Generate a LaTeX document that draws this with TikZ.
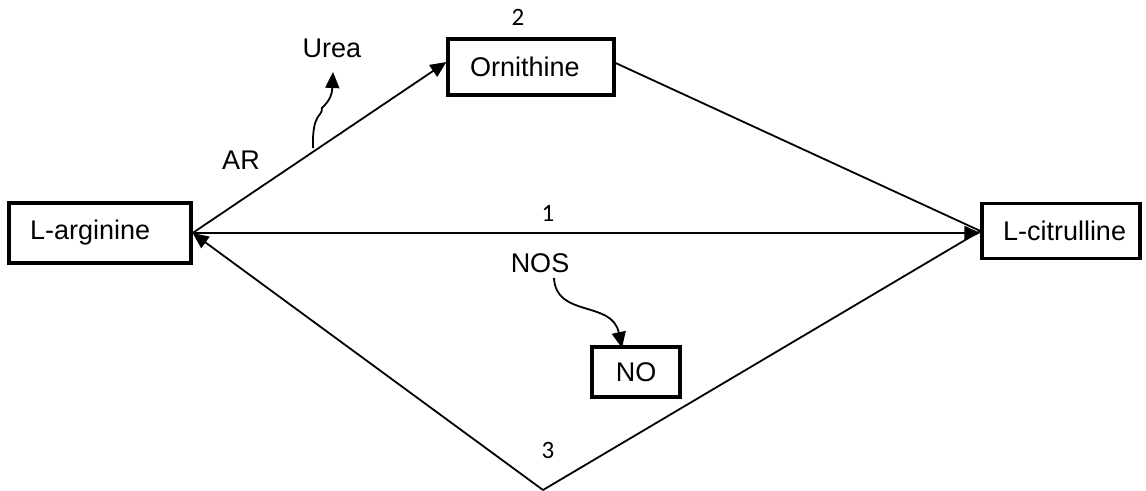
\documentclass[tikz,border=0pt]{standalone}
\usepackage{fontspec}
\setmainfont{Liberation Sans}
\newfontfamily\numfont{Carlito}
\usetikzlibrary{arrows.meta}
\begin{document}
\begin{tikzpicture}[x=1pt,y=-1pt,
  box/.style={draw,line width=3.2pt,inner sep=0pt,align=left,font=\fontsize{27}{31}\selectfont},
  lbl/.style={inner sep=0pt,font=\fontsize{27}{31}\selectfont},
  num/.style={inner sep=0pt,font=\numfont\fontsize{25}{29}\selectfont},
  conn/.style={line width=1.8pt},
  arr/.style={line width=1.8pt,-{Triangle[length=16pt,width=14pt]}}]
\useasboundingbox (0,0) rectangle (1146,490);
\node[box,text width=182pt,minimum height=60pt] (arg) at (100,233) {\hspace*{21pt}L-arginine};
\node[box,text width=166pt,minimum height=56pt] (orn) at (531,67) {\hspace*{22pt}Ornithine};
\node[box,text width=158pt,minimum height=55pt] (cit) at (1061,231) {\hspace*{21pt}L-citrulline};
\node[box,align=center,minimum width=88pt,minimum height=50pt] (no) at (636,372) {NO};
\node[lbl] (urea) at (332,48) {Urea};
\node[lbl] (ar) at (241,160) {AR};
\node[lbl] (nos) at (540,263) {NOS};
\node[num] (n2) at (518,17) {2};
\node[num] (n1) at (548,213) {1};
\node[num] (n3) at (548,450) {3};
\coordinate (v) at (543,490);
\coordinate (ustart) at (313,148);
\draw[arr] (arg.east) -- ([yshift=5pt]orn.west);
\draw[conn] ([yshift=4pt]orn.east) -- (cit.west);
\draw[arr] (arg.east) -- ([yshift=-2pt]cit.west);
\draw[conn] (cit.west) -- (v);
\draw[arr] (v) -- (arg.east);
\draw[arr] (ustart) .. controls (312,112) and (322,118) .. (322,108) .. controls (330,100) and (332,95) .. (333,72);
\draw[arr] (554,278) .. controls (556,318) and (612,300) .. (622,348);
\end{tikzpicture}
\end{document}
